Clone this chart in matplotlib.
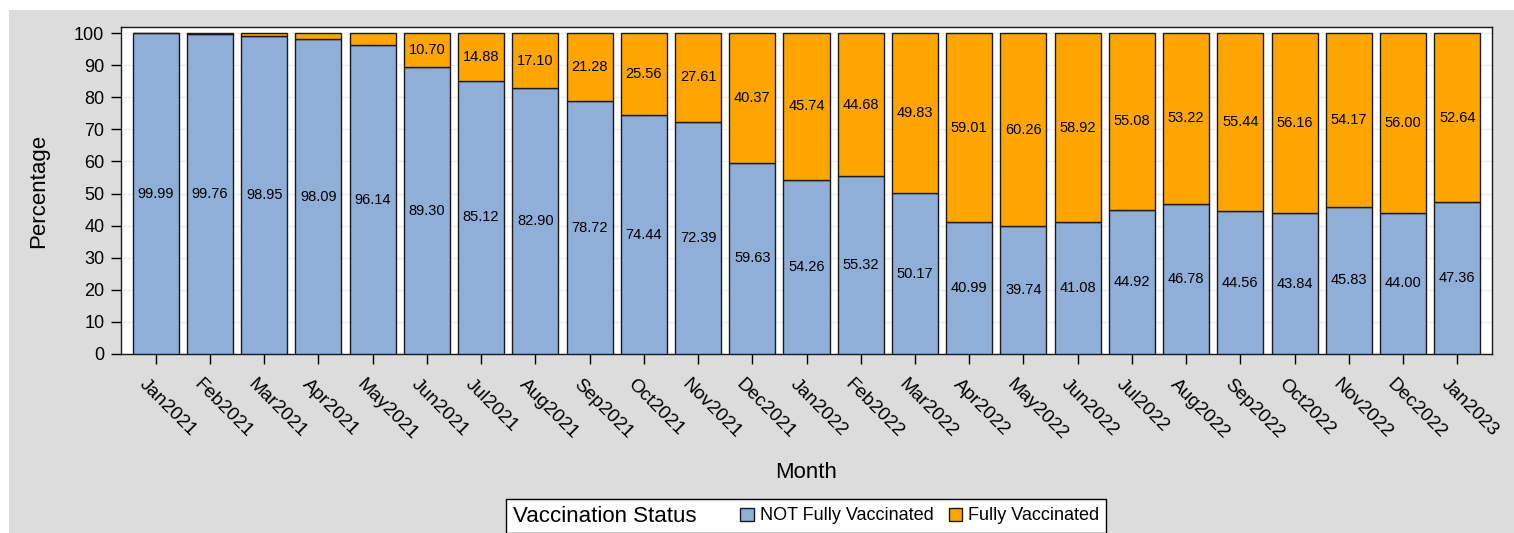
import numpy as np
import matplotlib
matplotlib.use('Agg')
import matplotlib.pyplot as plt
from matplotlib.patches import Patch, Rectangle
from matplotlib.offsetbox import HPacker
from matplotlib.transforms import ScaledTranslation

plt.rcParams['font.family'] = ['Liberation Sans', 'DejaVu Sans']

# Dados
months = ['Jan2021', 'Feb2021', 'Mar2021', 'Apr2021', 'May2021', 'Jun2021', 'Jul2021',
          'Aug2021', 'Sep2021', 'Oct2021', 'Nov2021', 'Dec2021', 'Jan2022', 'Feb2022',
          'Mar2022', 'Apr2022', 'May2022', 'Jun2022', 'Jul2022', 'Aug2022', 'Sep2022',
          'Oct2022', 'Nov2022', 'Dec2022', 'Jan2023']
not_fully = [99.99, 99.76, 98.95, 98.09, 96.14, 89.30, 85.12, 82.90, 78.72, 74.44, 72.39,
             59.63, 54.26, 55.32, 50.17, 40.99, 39.74, 41.08, 44.92, 46.78, 44.56, 43.84,
             45.83, 44.00, 47.36]
fully = [0.01, 0.24, 1.05, 1.91, 3.86, 10.70, 14.88, 17.10, 21.28, 25.56, 27.61, 40.37,
         45.74, 44.68, 49.83, 59.01, 60.26, 58.92, 55.08, 53.22, 55.44, 56.16, 54.17,
         56.00, 52.64]

blue = '#8FAFD9'
orange = '#FFA500'
edge = '#1A1A1A'

fig = plt.figure(figsize=(15.14, 5.33), dpi=100)
fig.patch.set_facecolor('white')
# fundo cinza
fig.patches.append(Rectangle((9 / 1514, 0), 1, 1 - 10 / 533, transform=fig.transFigure,
                             facecolor='#DCDCDC', edgecolor='none', zorder=-10))

ax = fig.add_axes([121 / 1514, 1 - 354 / 533, (1492 - 121) / 1514, (354 - 27) / 533])
ax.set_facecolor('white')

x = np.arange(len(months))
ax.bar(x, not_fully, width=0.85, color=blue, edgecolor=edge, linewidth=1, zorder=3)
ax.bar(x, fully, width=0.85, bottom=not_fully, color=orange, edgecolor=edge,
       linewidth=1, zorder=3)

# Rótulos
for i in range(len(months)):
    ax.text(x[i], not_fully[i] / 2, f'{not_fully[i]:.2f}', ha='center', va='center',
            fontsize=10.5, zorder=4)
    if fully[i] >= 5:
        ax.text(x[i], not_fully[i] + fully[i] / 2, f'{fully[i]:.2f}', ha='center',
                va='center', fontsize=10.5, zorder=4)

ax.set_xlim(-0.64, len(months) - 1 + 0.64)
ax.set_ylim(0, 101.9)
ax.set_yticks(range(0, 101, 10))
ax.set_xticks(x)
ax.set_xticklabels(months, rotation=-45, ha='left', va='top', rotation_mode='anchor',
                   fontsize=13.7)
ax.tick_params(axis='y', labelsize=13, length=7, width=1, pad=5)
ax.tick_params(axis='x', length=7, width=1, pad=6)
shift = ScaledTranslation(-0.075, -0.04, fig.dpi_scale_trans)
for lab in ax.get_xticklabels():
    lab.set_transform(lab.get_transform() + shift)
ax.yaxis.grid(True, color='#EEEEEE', linewidth=1, zorder=0)
ax.set_axisbelow(True)
for s in ax.spines.values():
    s.set_linewidth(1)
    s.set_color(edge)

ax.set_ylabel('Percentage', fontsize=16)
ax.yaxis.set_label_coords(-0.0525, 0.5)
fig.text(806 / 1514, 1 - 472 / 533, 'Month', ha='center', va='center', fontsize=16)

# Legenda
handles = [Patch(facecolor=blue, edgecolor=edge), Patch(facecolor=orange, edgecolor=edge)]
leg = fig.legend(handles, ['NOT Fully Vaccinated', 'Fully Vaccinated'], ncol=2,
                 loc='center', bbox_to_anchor=(806 / 1514, 1 - 516 / 533),
                 title='Vaccination Status', title_fontsize=16, fontsize=13,
                 frameon=True, fancybox=False, edgecolor='black', framealpha=1,
                 handlelength=0.75, handleheight=0.75, handletextpad=0.35,
                 columnspacing=0.8, borderpad=0.2, borderaxespad=0)
leg.get_frame().set_linewidth(1)
box = HPacker(pad=5, sep=32, align='center',
              children=[leg._legend_title_box, leg._legend_handle_box])
box.set_figure(fig)
box.set_offset(leg._findoffset)
leg._legend_box = box

fig.savefig('out.png', dpi=100)
plt.close()
